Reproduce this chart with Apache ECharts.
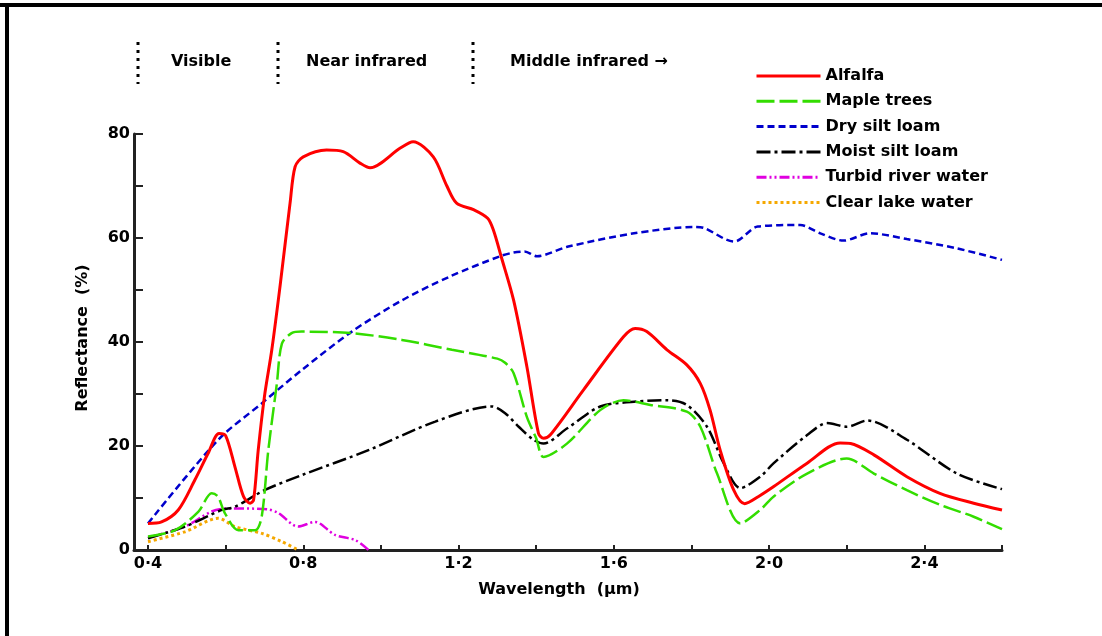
<!DOCTYPE html>
<html>
<head>
<meta charset="utf-8">
<script src="https://cdn.jsdelivr.net/npm/echarts@6/dist/echarts.min.js"></script>
<style>
  html, body { margin: 0; padding: 0; background: #fff; }
  #chart { width: 1102px; height: 636px; }
</style>
</head>
<body>
<div id="chart"></div>
<script>
// wavelength (um), reflectance (%)
const alfalfa = [[0.40,5.1],[0.435,5.4],[0.478,7.7],[0.521,13.5],[0.555,18.6],[0.583,22.4],[0.60,22],[0.624,16],[0.646,10.3],[0.663,9.0],[0.672,9.6],[0.684,19.2],[0.70,29.5],[0.719,38.5],[0.74,50.6],[0.766,66.7],[0.779,73.7],[0.80,75.6],[0.86,76.9],[0.903,76.6],[0.946,74.4],[0.972,73.5],[1.05,77.3],[1.083,78.5],[1.135,75.6],[1.17,70],[1.195,66.7],[1.24,65.4],[1.275,63.8],[1.29,61.5],[1.31,56.4],[1.342,48],[1.376,35.3],[1.406,22.4],[1.419,21.5],[1.436,22.1],[1.522,30.8],[1.625,41],[1.655,42.6],[1.685,42],[1.737,38.5],[1.788,35.6],[1.823,32],[1.848,26.9],[1.874,19.2],[1.909,11.5],[1.937,8.9],[1.973,10.3],[2.012,12.2],[2.098,16.7],[2.183,20.6],[2.21,20.5],[2.27,18.3],[2.355,14.1],[2.44,10.9],[2.527,9],[2.6,7.7]];
const mapleTrees = [[0.40,2.6],[0.47,3.8],[0.53,7.4],[0.564,10.9],[0.58,10.3],[0.598,7.1],[0.633,3.8],[0.676,3.8],[0.693,6.4],[0.71,19.2],[0.732,32],[0.745,39.7],[0.77,41.7],[0.796,42],[0.925,41.7],[1.054,40.4],[1.183,38.5],[1.30,36.8],[1.32,36],[1.342,34],[1.376,25.6],[1.40,21.5],[1.419,17.9],[1.48,20.5],[1.565,26.9],[1.625,28.8],[1.694,27.9],[1.788,26.6],[1.823,23.7],[1.866,14.7],[1.926,5.1],[1.977,7.7],[2.012,10.3],[2.098,14.7],[2.2,17.6],[2.27,14.7],[2.355,11.5],[2.44,8.7],[2.527,6.4],[2.6,4]];
const drySiltLoam = [[0.40,5.1],[0.581,21.2],[0.693,28.2],[0.796,34.6],[0.925,42],[1.054,48],[1.178,52.6],[1.307,56.5],[1.342,57.2],[1.37,57.4],[1.402,56.5],[1.48,58.3],[1.652,60.9],[1.807,62.1],[1.833,61.9],[1.91,59.3],[1.971,62.2],[2.08,62.5],[2.132,60.9],[2.192,59.5],[2.26,60.9],[2.355,59.8],[2.484,58],[2.6,55.8]];
const moistSiltLoam = [[0.40,2.25],[0.495,4.5],[0.59,7.7],[0.624,8.3],[0.70,11.5],[0.796,14.4],[0.968,19.2],[1.14,24.7],[1.286,27.6],[1.32,26.3],[1.355,23.7],[1.393,21.2],[1.419,20.5],[1.48,23.4],[1.565,27.6],[1.652,28.5],[1.737,28.8],[1.788,27.9],[1.84,23.7],[1.883,16.7],[1.926,11.9],[1.977,14.1],[2.012,16.7],[2.098,22.1],[2.15,24.4],[2.2,23.7],[2.253,24.9],[2.355,21.2],[2.484,14.7],[2.6,11.7]];
const turbidRiver = [[0.40,2.4],[0.495,4.5],[0.564,7.4],[0.607,8.0],[0.71,7.8],[0.736,7.1],[0.787,4.5],[0.83,5.4],[0.882,2.9],[0.934,1.9],[0.968,0]];
const clearLake = [[0.40,1.6],[0.495,3.5],[0.581,6.1],[0.624,4.5],[0.693,3.2],[0.745,1.6],[0.787,0]];

const names = ['Alfalfa', 'Maple trees', 'Dry silt loam', 'Moist silt loam', 'Turbid river water', 'Clear lake water'];
const xLabels = [0.4, 0.8, 1.2, 1.6, 2.0, 2.4];
const xTicks = [0.4, 0.6, 0.8, 1.0, 1.2, 1.4, 1.6, 1.8, 2.0, 2.2, 2.4, 2.6];
const yLabels = [0, 20, 40, 60, 80];

const FONT = 'DejaVu Sans';
const txt = { fontFamily: FONT, fontSize: 16, fontWeight: 'bold', color: '#000' };

function line(name, data, color, width, dash, z) {
  return {
    name: name, type: 'line', data: data, symbol: 'none', smooth: 0.3, z: z,
    lineStyle: { color: color, width: width, type: dash },
    itemStyle: { color: color }
  };
}

// dotted separators above the plot
function dots(x) {
  return { type: 'line', shape: { x1: x, y1: 42, x2: x, y2: 84 },
    style: { stroke: '#000', lineWidth: 3, lineDash: [3, 5] } };
}
function label(x, y, text) {
  return { type: 'text', x: x, y: y,
    style: { text: text, font: 'bold 16px "' + FONT + '"', fill: '#000', textVerticalAlign: 'middle' } };
}

const chart = echarts.init(document.getElementById('chart'));
chart.setOption({
  animation: false,
  backgroundColor: '#fff',
  grid: { left: 134, right: 100, top: 134, bottom: 86 },
  legend: {
    orient: 'vertical', left: 755, top: 68, padding: 0,
    itemWidth: 64, itemHeight: 14, itemGap: 9.3,
    data: names,
    itemStyle: { opacity: 0 },
    lineStyle: { width: 3 },
    textStyle: Object.assign({ lineHeight: 14 }, txt)
  },
  xAxis: {
    type: 'value', min: 0.364, max: 2.6,
    axisLine: { lineStyle: { color: '#222', width: 3 } },
    splitLine: { show: false },
    axisTick: { inside: true, length: 5, lineStyle: { color: '#222', width: 2 }, customValues: xTicks },
    axisLabel: Object.assign({ margin: 6, customValues: xLabels,
      formatter: v => v.toFixed(1).replace('.', '·') }, txt)
  },
  yAxis: {
    type: 'value', min: 0, max: 80, interval: 10,
    axisLine: { show: true, lineStyle: { color: '#222', width: 3 } },
    splitLine: { show: false },
    axisTick: { show: true, inside: true, length: 9, lineStyle: { color: '#222', width: 2 } },
    axisLabel: Object.assign({ margin: 4, customValues: yLabels }, txt)
  },
  graphic: [
    { type: 'rect', shape: { x: 0, y: 3, width: 1102, height: 4 }, style: { fill: '#000' } },
    { type: 'rect', shape: { x: 5, y: 3, width: 4, height: 633 }, style: { fill: '#000' } },
    dots(138), dots(278), dots(473),
    label(171, 62, 'Visible'),
    label(306, 62, 'Near infrared'),
    label(510, 62, 'Middle infrared →'),
    { type: 'text', x: 83, y: 338, rotation: Math.PI / 2,
      style: { text: 'Reflectance  (%)', font: 'bold 16px "' + FONT + '"', fill: '#000',
        textAlign: 'center', textVerticalAlign: 'middle' } },
    { type: 'text', x: 559, y: 590,
      style: { text: 'Wavelength  (μm)', font: 'bold 16px "' + FONT + '"', fill: '#000',
        textAlign: 'center', textVerticalAlign: 'middle' } }
  ],
  series: [
    line(names[5], clearLake, '#f5a800', 3, [3, 3], 2),
    line(names[4], turbidRiver, '#e000e0', 2.5, [10, 3, 2, 3, 2, 3], 2),
    line(names[3], moistSiltLoam, '#000000', 2.5, [14, 4, 3, 4], 3),
    line(names[2], drySiltLoam, '#0000cc', 2.5, [7, 4], 3),
    line(names[1], mapleTrees, '#33dd00', 2.5, [18, 5], 4),
    line(names[0], alfalfa, '#ff0000', 3, 'solid', 5)
  ]
});
</script>
</body>
</html>
